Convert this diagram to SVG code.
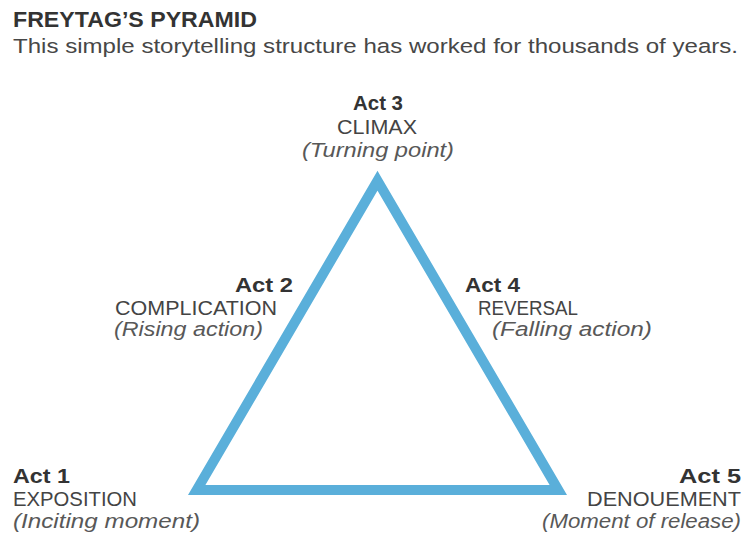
<svg xmlns="http://www.w3.org/2000/svg" width="744" height="537" viewBox="0 0 744 537">
  <style>
    text { font-family: "Liberation Sans", Arial, sans-serif; font-size: 20.5px; }
    .title { font-weight: bold; font-size: 21.5px; fill: #333333; }
    .sub { fill: #474747; }
    .act { font-weight: bold; fill: #333333; }
    .name { fill: #444444; }
    .note { font-style: italic; fill: #585858; }
    .edge { fill: none; stroke: #5AAFDA; stroke-width: 10; stroke-linejoin: miter; stroke-miterlimit: 10; }
  </style>
  <rect width="744" height="537" fill="#ffffff"/>

  <g id="header">
    <text class="title" x="13" y="27" textLength="244" lengthAdjust="spacingAndGlyphs">FREYTAG’S PYRAMID</text>
    <text class="sub" x="13" y="53" textLength="725" lengthAdjust="spacingAndGlyphs">This simple storytelling structure has worked for thousands of years.</text>
  </g>

  <!-- the pyramid: rising action, climax, falling action -->
  <g id="connectors">
    <polygon class="edge" points="377.5,180.7 558.3,490 196.7,490"/>
  </g>

  <g id="act1">
    <text class="act" x="13" y="483" textLength="57" lengthAdjust="spacingAndGlyphs">Act 1</text>
    <text class="name" x="13" y="506" textLength="124" lengthAdjust="spacingAndGlyphs">EXPOSITION</text>
    <text class="note" x="13" y="528" textLength="187" lengthAdjust="spacingAndGlyphs">(Inciting moment)</text>
  </g>

  <g id="act2" text-anchor="end">
    <text class="act" x="293" y="292" textLength="58" lengthAdjust="spacingAndGlyphs">Act 2</text>
    <text class="name" x="277" y="315" textLength="162" lengthAdjust="spacingAndGlyphs">COMPLICATION</text>
    <text class="note" x="263" y="336" textLength="149" lengthAdjust="spacingAndGlyphs">(Rising action)</text>
  </g>

  <g id="act3" text-anchor="middle">
    <text class="act" x="378" y="110" textLength="50" lengthAdjust="spacingAndGlyphs">Act 3</text>
    <text class="name" x="377" y="134" textLength="80" lengthAdjust="spacingAndGlyphs">CLIMAX</text>
    <text class="note" x="378" y="157" textLength="152" lengthAdjust="spacingAndGlyphs">(Turning point)</text>
  </g>

  <g id="act4">
    <text class="act" x="465" y="292" textLength="55" lengthAdjust="spacingAndGlyphs">Act 4</text>
    <text class="name" x="478" y="315" textLength="100" lengthAdjust="spacingAndGlyphs">REVERSAL</text>
    <text class="note" x="492" y="336" textLength="160" lengthAdjust="spacingAndGlyphs">(Falling action)</text>
  </g>

  <g id="act5" text-anchor="end">
    <text class="act" x="741" y="483" textLength="62" lengthAdjust="spacingAndGlyphs">Act 5</text>
    <text class="name" x="741" y="506" textLength="154" lengthAdjust="spacingAndGlyphs">DENOUEMENT</text>
    <text class="note" x="741" y="528" textLength="199" lengthAdjust="spacingAndGlyphs">(Moment of release)</text>
  </g>
</svg>
